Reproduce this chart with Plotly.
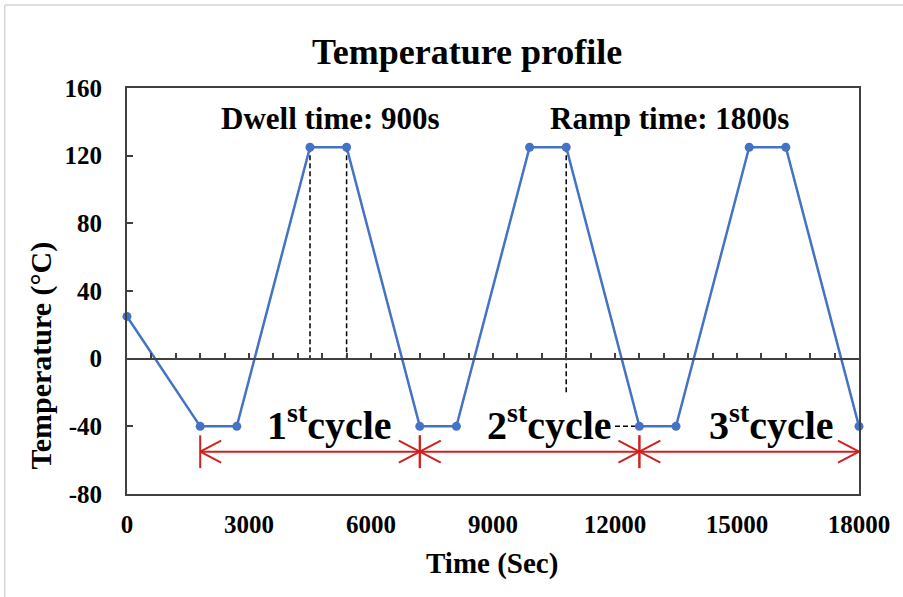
import plotly.graph_objects as go

# ---- data ----
time_s = [0, 1800, 2700, 4500, 5400, 7200, 8100, 9900, 10800, 12600, 13500, 15300, 16200, 18000]
temp_c = [25, -40, -40, 125, 125, -40, -40, 125, 125, -40, -40, 125, 125, -40]
cycle_starts = [1800, 7200, 12600]
cycle_ends = [7200, 12600, 18000]
cycle_labels = ["1<sup>st</sup>cycle", "2<sup>st</sup>cycle", "3<sup>st</sup>cycle"]
x_ticks = [0, 3000, 6000, 9000, 12000, 15000, 18000]
x_ticktext = ["0", "3000", "6000", "9000", "12000", "15000", "18000"]
y_ticks = [-80, -40, 0, 40, 80, 120, 160]
y_ticktext = ["-80", "-40", "0", "40", "80", "120", "160"]
dwell_note = "Dwell time: 900s"
ramp_note = "Ramp time: 1800s"
guide_vertical_x = [4500, 5400, 10800]
guide_vertical_bottom = [0, 0, -20]
guide_horizontal_x = [12000, 12600]
guide_horizontal_y = -40

FONT = "Liberation Serif"
AXC = "#404040"
BLUE = "#4472C4"
RED = "#D0201F"

fig = go.Figure()

# dashed guide lines
for gx, gb in zip(guide_vertical_x, guide_vertical_bottom):
    top = temp_c[time_s.index(gx)]
    fig.add_trace(go.Scatter(x=[gx, gx], y=[top, gb], mode="lines",
                             line=dict(color="black", width=1.5, dash="5px,3px"),
                             hoverinfo="skip", showlegend=False))
fig.add_trace(go.Scatter(x=guide_horizontal_x, y=[guide_horizontal_y] * 2, mode="lines",
                         line=dict(color="black", width=1.5, dash="5px,3px"),
                         hoverinfo="skip", showlegend=False))

# main profile
fig.add_trace(go.Scatter(x=time_s, y=temp_c, mode="lines+markers",
                         line=dict(color=BLUE, width=2.5),
                         marker=dict(color=BLUE, size=9),
                         cliponaxis=False, showlegend=False))

# invisible trace for zero-line axis
fig.add_trace(go.Scatter(x=[x_ticks[0], x_ticks[-1]], y=[0, 0], xaxis="x2", mode="lines",
                         line=dict(width=0), hoverinfo="skip", showlegend=False))

# cycle arrows
arrow_y = -55
bar_half = 9.7
head_dx = 516
head_dy = 6.5
shapes = []
for i, (s, e) in enumerate(zip(cycle_starts, cycle_ends)):
    line = dict(color=RED, width=2)
    shapes.append(dict(type="line", xref="x", yref="y", x0=s, x1=e, y0=arrow_y, y1=arrow_y, line=line))
    shapes.append(dict(type="line", xref="x", yref="y", x0=s, x1=s + head_dx, y0=arrow_y, y1=arrow_y + head_dy, line=line))
    shapes.append(dict(type="line", xref="x", yref="y", x0=s, x1=s + head_dx, y0=arrow_y, y1=arrow_y - head_dy, line=line))
    shapes.append(dict(type="line", xref="x", yref="y", x0=e, x1=e - head_dx, y0=arrow_y, y1=arrow_y + head_dy, line=line))
    shapes.append(dict(type="line", xref="x", yref="y", x0=e, x1=e - head_dx, y0=arrow_y, y1=arrow_y - head_dy, line=line))
    shapes.append(dict(type="line", xref="x", yref="y", x0=s, x1=s, y0=arrow_y - bar_half, y1=arrow_y + bar_half, line=line))
    if i < len(cycle_starts) - 1:
        shapes.append(dict(type="line", xref="x", yref="y", x0=e, x1=e, y0=arrow_y - bar_half, y1=arrow_y + bar_half, line=line))

# outer grey frame (partial, like the screenshot crop)
shapes.append(dict(type="line", xref="paper", yref="paper", x0=-0.1671, x1=1.1, y0=1.2044, y1=1.2044,
                   line=dict(color="#d4d4d4", width=1.5)))
shapes.append(dict(type="line", xref="paper", yref="paper", x0=-0.1671, x1=-0.1671, y0=-0.3, y1=1.2044,
                   line=dict(color="#d4d4d4", width=1.5)))

annotations = []
cyc_offsets = [4973, 10400, 15852]
for lab, cx in zip(cycle_labels, cyc_offsets):
    annotations.append(dict(x=cx, y=-38, xref="x", yref="y", text=lab, showarrow=False,
                            font=dict(family=FONT, size=40, color="black", weight="bold"),
                            xanchor="center", yanchor="middle"))
annotations.append(dict(x=5000, y=142, xref="x", yref="y", text=dwell_note, showarrow=False,
                        font=dict(family=FONT, size=31, color="black", weight="bold"),
                        xanchor="center", yanchor="middle"))
annotations.append(dict(x=13350, y=142, xref="x", yref="y", text=ramp_note, showarrow=False,
                        font=dict(family=FONT, size=31, color="black", weight="bold"),
                        xanchor="center", yanchor="middle"))
annotations.append(dict(x=0.4645, y=1.089, xref="paper", yref="paper", text="Temperature profile",
                        showarrow=False, font=dict(family=FONT, size=36, color="black", weight="bold"),
                        xanchor="center", yanchor="middle"))
annotations.append(dict(x=0.4986, y=-0.17, xref="paper", yref="paper", text="Time (Sec)",
                        showarrow=False, font=dict(family=FONT, size=29, color="black", weight="bold"),
                        xanchor="center", yanchor="middle"))
annotations.append(dict(x=-0.118, y=0.34, xref="paper", yref="paper", text="Temperature (°C)",
                        showarrow=False, textangle=-90,
                        font=dict(family=FONT, size=30, color="black", weight="bold"),
                        xanchor="center", yanchor="middle"))

tickfont = dict(family=FONT, size=25, color="black", weight="bold")

fig.update_layout(
    width=903, height=597,
    margin=dict(l=126.5, r=43.5, t=88, b=103),
    paper_bgcolor="white", plot_bgcolor="white",
    shapes=shapes, annotations=annotations,
    xaxis=dict(range=[x_ticks[0], x_ticks[-1]], tickvals=x_ticks, ticktext=x_ticktext, ticks="",
               showgrid=False, zeroline=False,
               showline=True, linecolor=AXC, linewidth=2, mirror=True, tickfont=tickfont,
               ticklabelstandoff=7),
    xaxis2=dict(range=[x_ticks[0], x_ticks[-1]], overlaying="x", anchor="free", position=1 / 3,
                side="bottom", tick0=0, dtick=600, ticks="inside", ticklen=5, tickwidth=1.5,
                tickcolor=AXC, showticklabels=False, showgrid=False, zeroline=False,
                showline=True, linecolor=AXC, linewidth=2),
    yaxis=dict(range=[y_ticks[0], y_ticks[-1]], tickvals=y_ticks, ticktext=y_ticktext,
               ticks="inside", ticklen=6, tickwidth=1.5,
               tickcolor=AXC, showgrid=False, zeroline=False, showline=True, linecolor=AXC, linewidth=2,
               mirror=True, tickfont=tickfont, ticklabelstandoff=18),
    showlegend=False,
)

fig.write_html("out.html")
